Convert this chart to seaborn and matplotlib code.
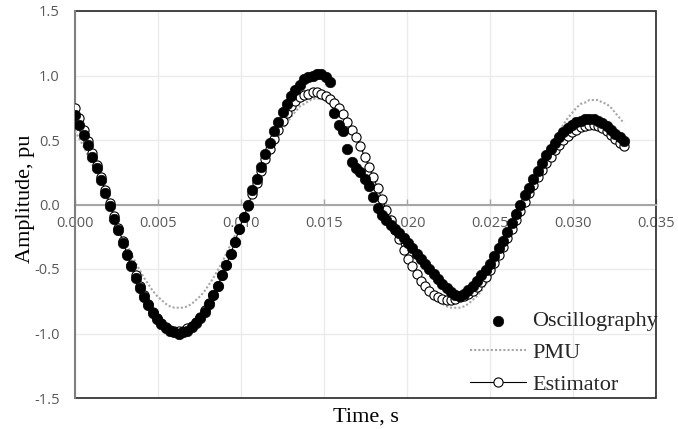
import numpy as np
import pandas as pd
import matplotlib
matplotlib.use("Agg")
import matplotlib.pyplot as plt
from matplotlib.patches import Rectangle
import seaborn as sns

# Sampling grid: 64 samples per 60 Hz cycle
SAMPLE_DT = 1.0 / 3840.0

oscillography = [
    0.69, 0.62, 0.54, 0.46, 0.37, 0.28, 0.19, 0.09, -0.01, -0.11,
    -0.20, -0.30, -0.39, -0.48, -0.57, -0.65, -0.72, -0.78, -0.84, -0.89,
    -0.93, -0.96, -0.98, -0.99, -1.00, -0.99, -0.98, -0.95, -0.92, -0.88,
    -0.83, -0.77, -0.70, -0.63, -0.55, -0.47, -0.38, -0.29, -0.19, -0.10,
    0.00, 0.11, 0.20, 0.29, 0.39, 0.48, 0.57, 0.64, 0.72, 0.78,
    0.84, 0.89, 0.93, 0.97, 0.99, 1.00, 1.01, 1.01, 0.99, 0.95,
    0.71, 0.62, 0.57, 0.43, 0.33, 0.28, 0.25, 0.20, 0.14, 0.06,
    -0.03, -0.08, -0.12, -0.16, -0.19, -0.22, -0.26, -0.30, -0.34, -0.38,
    -0.42, -0.46, -0.50, -0.54, -0.58, -0.62, -0.65, -0.68, -0.70, -0.71,
    -0.69, -0.66, -0.63, -0.59, -0.55, -0.51, -0.46, -0.40, -0.34, -0.28,
    -0.21, -0.14, -0.07, 0.00, 0.07, 0.13, 0.20, 0.26, 0.32, 0.38,
    0.43, 0.48, 0.52, 0.56, 0.59, 0.62, 0.64, 0.65, 0.66, 0.66,
    0.66, 0.65, 0.63, 0.61, 0.58, 0.55, 0.52, 0.49,
]

pmu = [
    0.57, 0.51, 0.45, 0.38, 0.31, 0.24, 0.16, 0.08, 0.00, -0.08,
    -0.16, -0.24, -0.31, -0.38, -0.45, -0.51, -0.57, -0.62, -0.67, -0.71,
    -0.74, -0.77, -0.79, -0.80, -0.80, -0.80, -0.79, -0.77, -0.74, -0.71,
    -0.67, -0.62, -0.57, -0.51, -0.45, -0.38, -0.31, -0.24, -0.16, -0.08,
    0.00, 0.08, 0.16, 0.24, 0.31, 0.39, 0.45, 0.52, 0.58, 0.63,
    0.68, 0.72, 0.76, 0.78, 0.80, 0.82, 0.82, 0.82, 0.80, 0.78,
    0.76, 0.72, 0.68, 0.63, 0.58, 0.52, 0.45, 0.39, 0.31, 0.24,
    0.16, 0.08, 0.00, -0.08, -0.16, -0.24, -0.31, -0.38, -0.45, -0.51,
    -0.57, -0.62, -0.67, -0.71, -0.74, -0.77, -0.79, -0.80, -0.80, -0.80,
    -0.79, -0.77, -0.74, -0.71, -0.67, -0.62, -0.57, -0.51, -0.45, -0.38,
    -0.31, -0.24, -0.16, -0.08, 0.00, 0.08, 0.16, 0.24, 0.31, 0.38,
    0.45, 0.51, 0.57, 0.62, 0.67, 0.71, 0.75, 0.78, 0.79, 0.81,
    0.81, 0.81, 0.79, 0.78, 0.75, 0.71, 0.67, 0.63,
]

estimator = [
    0.75, 0.67, 0.58, 0.49, 0.40, 0.31, 0.21, 0.11, 0.01, -0.09,
    -0.18, -0.28, -0.38, -0.47, -0.55, -0.63, -0.70, -0.77, -0.83, -0.88,
    -0.92, -0.95, -0.97, -0.98, -0.98, -0.98, -0.96, -0.94, -0.91, -0.87,
    -0.82, -0.76, -0.70, -0.63, -0.55, -0.47, -0.38, -0.29, -0.19, -0.10,
    -0.01, 0.08, 0.17, 0.26, 0.35, 0.43, 0.51, 0.58, 0.65, 0.71,
    0.76, 0.80, 0.83, 0.85, 0.86, 0.87, 0.87, 0.86, 0.84, 0.82,
    0.79, 0.75, 0.70, 0.64, 0.58, 0.52, 0.45, 0.37, 0.29, 0.21,
    0.13, 0.04, -0.04, -0.12, -0.20, -0.27, -0.35, -0.42, -0.48, -0.54,
    -0.59, -0.63, -0.67, -0.70, -0.72, -0.73, -0.74, -0.74, -0.73, -0.72,
    -0.71, -0.69, -0.67, -0.64, -0.60, -0.56, -0.51, -0.45, -0.39, -0.33,
    -0.26, -0.19, -0.12, -0.05, 0.02, 0.09, 0.15, 0.21, 0.27, 0.32,
    0.37, 0.42, 0.46, 0.50, 0.53, 0.56, 0.58, 0.60, 0.61, 0.62,
    0.62, 0.61, 0.59, 0.57, 0.54, 0.51, 0.48, 0.45,
]

x_ticks = [0.000, 0.005, 0.010, 0.015, 0.020, 0.025, 0.030, 0.035]
x_tick_labels = ["0.000", "0.005", "0.010", "0.015", "0.020", "0.025", "0.030", "0.035"]
y_ticks = [-1.5, -1.0, -0.5, 0.0, 0.5, 1.0, 1.5]
y_tick_labels = ["-1.5", "-1.0", "-0.5", "0.0", "0.5", "1.0", "1.5"]

time = np.arange(len(oscillography)) * SAMPLE_DT
df = pd.DataFrame({
    "time": time,
    "Oscillography": oscillography,
    "PMU": pmu,
    "Estimator": estimator,
})

sns.set_theme(style="white")
plt.rcParams["font.family"] = ["Liberation Serif", "DejaVu Serif"]
plt.rcParams["axes.unicode_minus"] = False

W, H = 678, 429
fig = plt.figure(figsize=(W / 100, H / 100), dpi=100)
ax = fig.add_axes([75 / W, 31 / H, 581 / W, 387 / H])

sns.lineplot(data=df, x="time", y="PMU", ax=ax, color="#a6a6a6", lw=1.5,
             linestyle=(0, (1, 1)), label="PMU", zorder=2,
             sort=False, estimator=None)
sns.lineplot(data=df, x="time", y="Estimator", ax=ax, color="black", lw=0.8,
             marker="o", markersize=6.6, markerfacecolor="white",
             markeredgecolor="black", markeredgewidth=0.8,
             label="Estimator", zorder=3, sort=False, estimator=None)
sns.scatterplot(data=df, x="time", y="Oscillography", ax=ax, s=58,
                color="black", edgecolor="black", linewidth=0.4,
                label="Oscillography", zorder=4)

ax.set_xlim(0, 0.035)
ax.set_ylim(-1.5, 1.5)
ax.set_xticks(x_ticks, x_tick_labels)
ax.set_yticks(y_ticks, y_tick_labels)
ax.grid(True, color="#ebebeb", lw=1)
ax.set_axisbelow(True)

# Plot-area border plus a horizontal axis crossing at zero
for side in ["top", "right"]:
    ax.spines[side].set_visible(False)
ax.spines["bottom"].set_position(("data", 0))
ax.spines["bottom"].set_color("#a6a6a6")
ax.spines["bottom"].set_linewidth(1.5)
ax.spines["bottom"].set_zorder(1.5)
ax.spines["left"].set_color("#7f7f7f")
ax.spines["left"].set_linewidth(1.5)
ax.spines["left"].set_zorder(1.6)
ax.add_artist(Rectangle((0, 0), 1, 1, transform=ax.transAxes, fill=False,
                        ec="#262626", lw=1.2, zorder=1.4, clip_on=False))

ax.tick_params(axis="x", direction="in", length=4, width=1, color="#a6a6a6",
               pad=8, labelsize=10.5, labelcolor="#595959", bottom=True)
ax.tick_params(axis="y", length=0, pad=11, labelsize=10.5, labelcolor="#595959")
for lab in ax.get_xticklabels() + ax.get_yticklabels():
    lab.set_fontfamily(["Open Sans", "DejaVu Sans"])

ax.set_xlabel("Time, s", fontsize=16, color="black")
ax.xaxis.set_label_coords(0.5, -(422 - 398) / 387)
ax.xaxis.label.set_verticalalignment("baseline")
ax.set_ylabel("Amplitude, pu", fontsize=16, color="black")
ax.yaxis.set_label_coords(-(75 - 35) / 581, 0.515)

handles, labels = ax.get_legend_handles_labels()
lookup = dict(zip(labels, handles))
order = ["Oscillography", "PMU", "Estimator"]
if ax.get_legend() is not None:
    ax.get_legend().remove()
ax.legend([lookup[k] for k in order], order, loc="upper left",
          bbox_to_anchor=(0.68, 0.225), frameon=False, fontsize=16,
          handlelength=2.5, handletextpad=0.3, labelspacing=0.5,
          borderpad=0, borderaxespad=0)

fig.savefig("out.png", dpi=100)
